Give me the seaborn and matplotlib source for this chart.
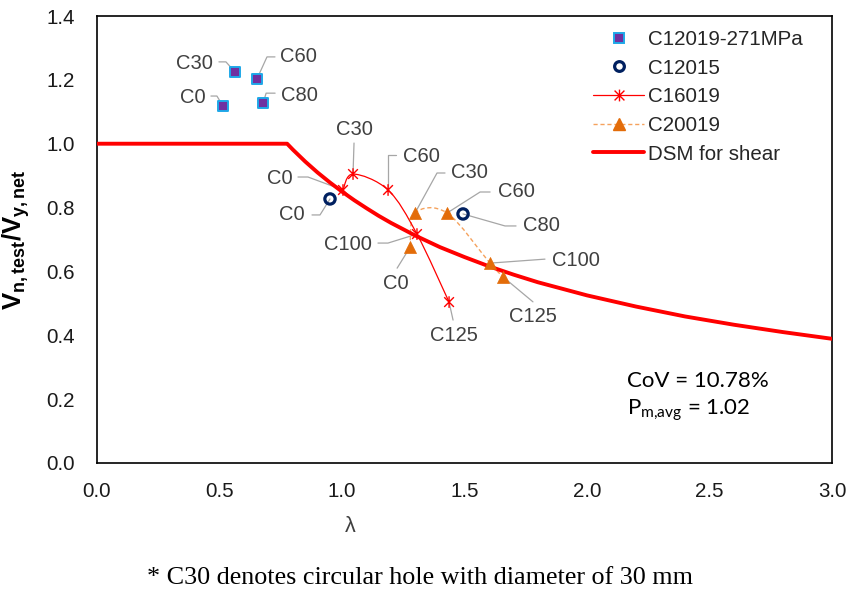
import numpy as np
import pandas as pd
import matplotlib
matplotlib.use("Agg")
import matplotlib.pyplot as plt
import matplotlib.transforms as mtransforms
from matplotlib.path import Path
from matplotlib.patches import PathPatch
from matplotlib.lines import Line2D
import seaborn as sns

# ---------------- data ----------------
c12019_labels = ["C0", "C30", "C60", "C80"]
c12019_lam = [0.514, 0.563, 0.653, 0.678]
c12019_v = [1.118, 1.225, 1.203, 1.127]

c12015_labels = ["C0", "C80"]
c12015_lam = [0.951, 1.494]
c12015_v = [0.827, 0.780]

c16019_labels = ["C0", "C30", "C60", "C100", "C125"]
c16019_lam = [1.004, 1.045, 1.188, 1.306, 1.437]
c16019_v = [0.855, 0.905, 0.855, 0.717, 0.504]

c20019_labels = ["C0", "C30", "C60", "C100", "C125"]
c20019_lam = [1.278, 1.298, 1.429, 1.604, 1.657]
c20019_v = [0.676, 0.783, 0.783, 0.626, 0.583]

dsm_lam = [0.0, 0.776, 0.80, 0.85, 0.90, 0.95, 1.00, 1.05, 1.10, 1.15, 1.20, 1.25,
           1.30, 1.40, 1.50, 1.60, 1.70, 1.80, 2.00, 2.20, 2.40, 2.60, 2.80, 3.00]
dsm_v = [1.000, 1.000, 0.981, 0.944, 0.910, 0.879, 0.850, 0.823, 0.798, 0.774, 0.752, 0.732,
         0.712, 0.676, 0.645, 0.616, 0.590, 0.566, 0.525, 0.490, 0.459, 0.433, 0.410, 0.389]

series_names = ["C12019-271MPa", "C12015", "C16019", "C20019", "DSM for shear"]
x_ticks = [0.0, 0.5, 1.0, 1.5, 2.0, 2.5, 3.0]
y_ticks = [0.0, 0.2, 0.4, 0.6, 0.8, 1.0, 1.2, 1.4]
stats_lines = ["CoV = 10.78%", r"$\mathrm{P_{m{,}avg}}$ = 1.02"]
footnote = "* C30 denotes circular hole with diameter of 30 mm"

# ---------------- label layout (pixel offsets, y down) ----------------
# text centre offset, leader polyline (from point outward)
lay_12019 = {
    "C0": ((-30, -9), [(0, 0), (-6, -10), (-12, -10)]),
    "C30": ((-40, -8), [(0, 0), (-9, -10), (-16, -10)]),
    "C60": ((41, -22), [(0, 0), (10, -22), (18, -22)]),
    "C80": ((36, -8), [(0, 0), (3, -10), (12, -10)]),
}
lay_12015 = {
    "C0": ((-38, 16), [(0, 0), (-10, 16), (-18, 16)]),
    "C80": ((78, 12), [(0, 0), (42, 12), (53, 12)]),
}
lay_16019 = {
    "C0": ((-63, -12), [(0, 0), (-35, -13), (-45, -13)]),
    "C30": ((1, -45), [(0, 0), (1, -31)]),
    "C60": ((33, -34), [(0, 0), (0, -35), (8, -35)]),
    "C100": ((-69, 10), [(0, 0), (-29, 9), (-39, 9)]),
    "C125": ((5, 33), [(0, 0), (4, 18)]),
}
lay_20019 = {
    "C0": ((-14, 36), [(0, 0), (-13, 21)]),
    "C30": ((54, -40), [(0, 0), (22, -40), (30, -40)]),
    "C60": ((69, -21), [(0, 0), (33, -21), (43, -21)]),
    "C100": ((86, -3), [(0, 0), (55, -4)]),
    "C125": ((30, 40), [(0, 0), (30, 25)]),
}

W, H = 847, 594
sns.set_style("white")
plt.rcParams["font.family"] = ["Liberation Sans", "DejaVu Sans"]
plt.rcParams["mathtext.fontset"] = "custom"
plt.rcParams["mathtext.rm"] = "Lato"
plt.rcParams["mathtext.it"] = "Lato:italic"
plt.rcParams["mathtext.bf"] = "Liberation Sans:bold"

fig = plt.figure(figsize=(W / 100, H / 100), dpi=100)
ax = fig.add_axes([97 / W, 1 - 463 / H, (832 - 97) / W, (463 - 16) / H])

PURPLE, CYAN = "#7030A0", "#1FA8E8"
NAVY = "#002060"
RED = "#FF0000"
ORANGE, ORANGE_L = "#E36C09", "#F5A25D"
GRAY_TXT, GRAY_LN = "#404040", "#A6A6A6"

# asterisk marker (x plus vertical bar)
ast = Path([(-1, -1), (1, 1), (-1, 1), (1, -1), (0, -1.2), (0, 1.2)],
           [Path.MOVETO, Path.LINETO, Path.MOVETO, Path.LINETO, Path.MOVETO, Path.LINETO])


def smooth_path(xs, ys):
    P = np.column_stack([xs, ys]).astype(float)
    n = len(P)
    verts = [P[0]]
    codes = [Path.MOVETO]
    for i in range(n - 1):
        p_prev = P[i - 1] if i > 0 else P[i]
        p_next2 = P[i + 2] if i + 2 < n else P[i + 1]
        c1 = P[i] + (P[i + 1] - p_prev) / 6.0
        c2 = P[i + 1] - (p_next2 - P[i]) / 6.0
        verts += [c1, c2, P[i + 1]]
        codes += [Path.CURVE4] * 3
    return Path(verts, codes)


# DSM curve
dsm = pd.DataFrame({"lam": dsm_lam, "v": dsm_v})
sns.lineplot(data=dsm, x="lam", y="v", ax=ax, color=RED, lw=2.8, sort=False,
             estimator=None, zorder=3)

# smoothed series lines
ax.add_patch(PathPatch(smooth_path(c16019_lam, c16019_v), fc="none", ec=RED, lw=0.9, zorder=4))
ax.add_patch(PathPatch(smooth_path(c20019_lam, c20019_v), fc="none", ec=ORANGE_L, lw=1.0,
                       ls=(0, (3, 2)), zorder=2))

# markers
sns.scatterplot(x=c12019_lam, y=c12019_v, ax=ax, marker="s", s=60, color=PURPLE,
                edgecolor=CYAN, linewidth=1.4, zorder=5)
sns.scatterplot(x=c12015_lam, y=c12015_v, ax=ax, marker="o", s=55, facecolor="none",
                edgecolor=NAVY, linewidth=2.3, zorder=5)
sns.scatterplot(x=c16019_lam, y=c16019_v, ax=ax, marker=ast, s=70, facecolor="none",
                edgecolor=RED, linewidth=1.0, zorder=5)
sns.scatterplot(x=c20019_lam, y=c20019_v, ax=ax, marker="^", s=75, color=ORANGE,
                edgecolor=ORANGE, linewidth=0.5, zorder=5)

# labels with leader lines
def add_labels(xs, ys, labels, layout):
    for x, y, lab in zip(xs, ys, labels):
        (tx, ty), pts = layout[lab]
        tr = mtransforms.Affine2D().scale(1, -1) + mtransforms.ScaledTranslation(x, y, ax.transData)
        px = [p[0] for p in pts]
        py = [p[1] for p in pts]
        ln = Line2D(px, py, transform=tr, color=GRAY_LN, lw=0.9, zorder=1, clip_on=False)
        ax.add_artist(ln)
        ax.annotate(lab, xy=(x, y), xytext=(tx, -ty), textcoords="offset pixels",
                    ha="center", va="center", fontsize=14.5, color=GRAY_TXT, zorder=6)


add_labels(c12019_lam, c12019_v, c12019_labels, lay_12019)
add_labels(c12015_lam, c12015_v, c12015_labels, lay_12015)
add_labels(c16019_lam, c16019_v, c16019_labels, lay_16019)
add_labels(c20019_lam, c20019_v, c20019_labels, lay_20019)

# axes formatting
ax.set_xlim(x_ticks[0], x_ticks[-1])
ax.set_ylim(y_ticks[0], y_ticks[-1])
ax.set_xticks(x_ticks)
ax.set_yticks(y_ticks)
ax.set_xticklabels([f"{t:.1f}" for t in x_ticks])
ax.set_yticklabels([f"{t:.1f}" for t in y_ticks])
ax.tick_params(axis="x", direction="in", length=5, width=1, pad=14, labelsize=14.8,
               labelcolor="#1a1a1a", color="black")
ax.tick_params(axis="y", direction="out", length=4, width=1, pad=12, labelsize=14.8,
               labelcolor="#1a1a1a", color="black")
for sp in ax.spines.values():
    sp.set_color("black")
    sp.set_linewidth(1.2)
    sp.set_visible(True)

ax.set_xlabel("λ", fontsize=15.5, color="#404040")
ax.xaxis.set_label_coords((350 - 97) / 735, -(516 - 463) / 447)
ax.set_ylabel(r"$\mathbf{V_{n,test}/V_{y,net}}$", fontsize=18.5, color="black")
ax.yaxis.set_label_coords(-(97 - 32) / 735, 0.5)

# legend
handles = [
    Line2D([], [], ls="none", marker="s", ms=7, mfc=PURPLE, mec=CYAN, mew=1.4),
    Line2D([], [], ls="none", marker="o", ms=7, mfc="none", mec=NAVY, mew=2.3),
    Line2D([], [], color=RED, lw=0.9, marker=ast, ms=8.5, mec=RED, mfc="none", mew=1.0),
    Line2D([], [], color=ORANGE_L, lw=1.0, ls=(0, (3, 2)), marker="^", ms=8.5,
           mfc=ORANGE, mec=ORANGE),
    Line2D([], [], color=RED, lw=2.8),
]
ax.legend(handles, series_names, loc="upper left",
          bbox_to_anchor=((593 - 97) / 735, 1 - (30 - 16) / 447),
          frameon=False, fontsize=14.8, handlelength=2.5, handletextpad=0.18,
          labelspacing=0.47, borderpad=0, borderaxespad=0)

# statistics text
fig.text(627 / W, 1 - 381 / H, stats_lines[0], fontsize=16, family="Lato", color="black",
         ha="left", va="center")
fig.text(627 / W, 1 - 410 / H, stats_lines[1], fontsize=16, family="Lato", color="black",
         ha="left", va="center")

# footnote
fig.text(420 / W, 1 - 578 / H, footnote, fontsize=18.8, family="Liberation Serif",
         color="black", ha="center", va="center")

fig.savefig("out.png", dpi=100)
